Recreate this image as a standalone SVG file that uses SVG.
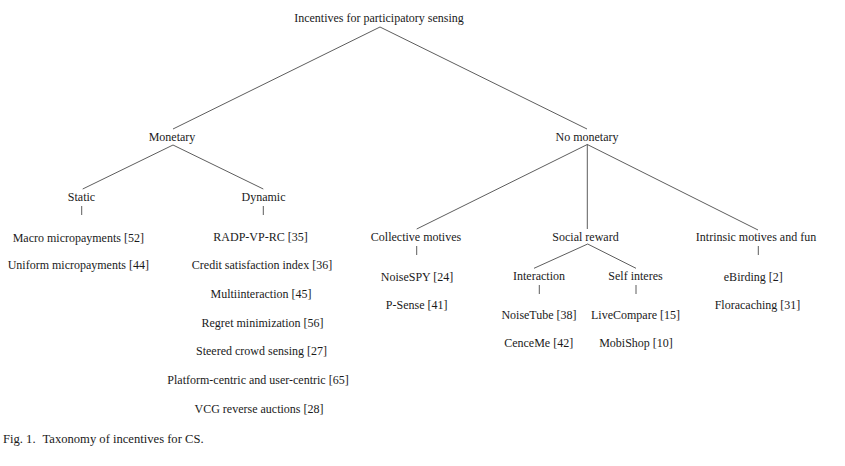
<svg xmlns="http://www.w3.org/2000/svg" width="845" height="466" viewBox="0 0 845 466">
<style>
  text { font-family: "Liberation Serif", "Times New Roman", serif; font-size: 12px; fill: #1a1a1a; text-anchor: middle; }
  .cap { text-anchor: start; font-size: 12.6px; }
  #connectors line { stroke: #333; stroke-width: 0.8; fill: none; }
</style>
<rect width="845" height="466" fill="#ffffff"/>
<g id="connectors">
  <line x1="380" y1="27" x2="173" y2="129"/>
  <line x1="380" y1="27" x2="587" y2="129"/>
  <line x1="173" y1="145" x2="82.7" y2="189"/>
  <line x1="173" y1="145" x2="263.3" y2="189"/>
  <line x1="81.7" y1="206" x2="81.7" y2="215"/>
  <line x1="263.3" y1="206" x2="263.3" y2="215"/>
  <line x1="587.3" y1="144.5" x2="416.7" y2="229"/>
  <line x1="587.3" y1="144.5" x2="587.3" y2="229"/>
  <line x1="587.3" y1="144.5" x2="758" y2="230"/>
  <line x1="416.7" y1="246" x2="416.7" y2="255"/>
  <line x1="758.3" y1="246" x2="758.3" y2="255"/>
  <line x1="587.7" y1="244" x2="534" y2="268.3"/>
  <line x1="587.7" y1="244" x2="636" y2="268.3"/>
  <line x1="539.3" y1="285" x2="539.3" y2="294"/>
  <line x1="636" y1="285" x2="636" y2="294"/>
</g>
<g id="root"><text x="379" y="22">Incentives for participatory sensing</text></g>
<g id="monetary"><text x="172" y="140.5">Monetary</text></g>
<g id="nomonetary"><text x="587" y="140.5">No monetary</text></g>
<g id="static"><text x="81.5" y="200.5">Static</text></g>
<g id="dynamic"><text x="263.5" y="200.5">Dynamic</text></g>
<g id="macro"><text x="78.3" y="241.5">Macro micropayments [52]</text></g>
<g id="uniform"><text x="78.3" y="269">Uniform micropayments [44]</text></g>
<g id="radp"><text x="260.5" y="241">RADP-VP-RC [35]</text></g>
<g id="credit"><text x="262" y="269">Credit satisfaction index [36]</text></g>
<g id="multi"><text x="261" y="297.5">Multiinteraction [45]</text></g>
<g id="regret"><text x="262.5" y="326.5">Regret minimization [56]</text></g>
<g id="steered"><text x="261.5" y="355">Steered crowd sensing [27]</text></g>
<g id="platform"><text x="258" y="384">Platform-centric and user-centric [65]</text></g>
<g id="vcg"><text x="259" y="412.5">VCG reverse auctions [28]</text></g>
<g id="collective"><text x="416" y="240.7">Collective motives</text></g>
<g id="social"><text x="585.5" y="240.7">Social reward</text></g>
<g id="intrinsic"><text x="756" y="240.7">Intrinsic motives and fun</text></g>
<g id="noisespy"><text x="417" y="280.5">NoiseSPY [24]</text></g>
<g id="psense"><text x="416.7" y="309">P-Sense [41]</text></g>
<g id="interaction"><text x="539" y="279.5">Interaction</text></g>
<g id="selfinteres"><text x="635.5" y="279.5">Self interes</text></g>
<g id="noisetube"><text x="539" y="319">NoiseTube [38]</text></g>
<g id="cenceme"><text x="538.7" y="347.3">CenceMe [42]</text></g>
<g id="livecompare"><text x="635.5" y="319">LiveCompare [15]</text></g>
<g id="mobishop"><text x="636" y="347.3">MobiShop [10]</text></g>
<g id="ebirding"><text x="753.3" y="280.5">eBirding [2]</text></g>
<g id="floracaching"><text x="757.5" y="309">Floracaching [31]</text></g>
<text class="cap" x="3" y="442.5">Fig. 1.</text>
<text class="cap" x="42.5" y="442.5">Taxonomy of incentives for CS.</text>
</svg>
